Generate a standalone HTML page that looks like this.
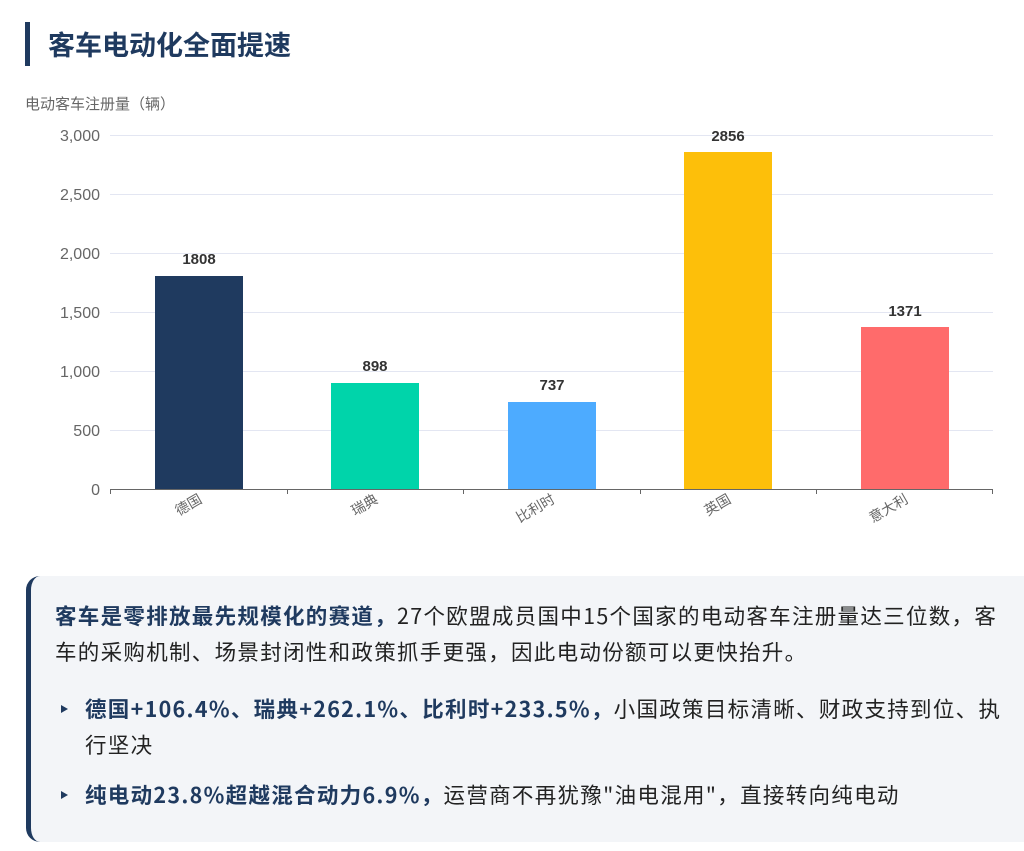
<!DOCTYPE html><html><head><meta charset="utf-8"><style>
body{margin:0;width:1024px;height:851px;background:#fff;font-family:"Liberation Sans","Noto Sans CJK SC",sans-serif;position:relative;overflow:hidden}
.t{position:absolute;left:25px;top:22px;border-left:5px solid #1f3a5f;height:44px;padding-left:18px;font-size:27px;font-weight:bold;color:#1f3a5f;line-height:44px;font-family:"Noto Sans CJK SC",sans-serif}
.card{position:absolute;left:26px;top:576px;width:1020px;height:266px;background:#f3f5f8;border-left:5px solid #1f3a5f;border-radius:14px;box-sizing:border-box;padding:22px 0 0 24px;font-size:21.5px;letter-spacing:1.3px;color:#222;line-height:36px;font-family:"Noto Sans CJK SC",sans-serif;white-space:nowrap}
b{color:#1f3a5f}
.li{position:relative;padding-left:30px;margin-top:21px}
.li2{margin-top:14px}
.li:before{content:"";position:absolute;left:6px;top:14px;border-left:7px solid #1f3a5f;border-top:4px solid transparent;border-bottom:4px solid transparent}
</style></head><body>
<div class="t">客车电动化全面提速</div>
<svg width="1024" height="560" style="position:absolute;left:0;top:0" font-family="Liberation Sans,Noto Sans CJK SC,sans-serif">
<text x="25" y="109" font-size="15" fill="#666">电动客车注册量（辆）</text>
<g stroke="#e3e6f2" stroke-width="1">
<line x1="110" x2="993" y1="135.5" y2="135.5"/><line x1="110" x2="993" y1="194.5" y2="194.5"/><line x1="110" x2="993" y1="253.5" y2="253.5"/><line x1="110" x2="993" y1="312.5" y2="312.5"/><line x1="110" x2="993" y1="371.5" y2="371.5"/><line x1="110" x2="993" y1="430.5" y2="430.5"/></g>
<g font-size="16" fill="#666" text-anchor="end">
<text x="100" y="141">3,000</text><text x="100" y="200">2,500</text><text x="100" y="259">2,000</text><text x="100" y="318">1,500</text><text x="100" y="377">1,000</text><text x="100" y="436">500</text><text x="100" y="495">0</text></g>
<rect x="155" y="276" width="88" height="213" fill="#1f3a5f"/>
<rect x="331" y="383" width="88" height="106" fill="#00d4aa"/>
<rect x="508" y="402" width="88" height="87" fill="#4dabff"/>
<rect x="684" y="152" width="88" height="337" fill="#fdbf0a"/>
<rect x="861" y="327" width="88" height="162" fill="#ff6b6b"/>
<g font-size="15" font-weight="bold" fill="#333" text-anchor="middle">
<text x="199" y="264">1808</text><text x="375" y="371">898</text><text x="552" y="390">737</text><text x="728" y="141">2856</text><text x="905" y="316">1371</text></g>
<line x1="110" x2="993" y1="489.5" y2="489.5" stroke="#666"/>
<g stroke="#666"><line x1="110.5" x2="110.5" y1="489" y2="494"/><line x1="287.5" x2="287.5" y1="489" y2="494"/><line x1="463.5" x2="463.5" y1="489" y2="494"/><line x1="640.5" x2="640.5" y1="489" y2="494"/><line x1="816.5" x2="816.5" y1="489" y2="494"/><line x1="992.5" x2="992.5" y1="489" y2="494"/></g>
<g font-size="14" fill="#666" text-anchor="end">
<text transform="translate(203,502) rotate(-30)">德国</text>
<text transform="translate(379,502) rotate(-30)">瑞典</text>
<text transform="translate(556,502) rotate(-30)">比利时</text>
<text transform="translate(732,502) rotate(-30)">英国</text>
<text transform="translate(909,502) rotate(-30)">意大利</text></g>
</svg>
<div class="card">
<div><b>客车是零排放最先规模化的赛道，</b>27个欧盟成员国中15个国家的电动客车注册量达三位数，客<br>车的采购机制、场景封闭性和政策抓手更强，因此电动份额可以更快抬升。</div>
<div class="li"><b>德国+106.4%、瑞典+262.1%、比利时+233.5%，</b>小国政策目标清晰、财政支持到位、执<br>行坚决</div>
<div class="li li2"><b>纯电动23.8%超越混合动力6.9%，</b>运营商不再犹豫"油电混用"，直接转向纯电动</div>
</div>
</body></html>
